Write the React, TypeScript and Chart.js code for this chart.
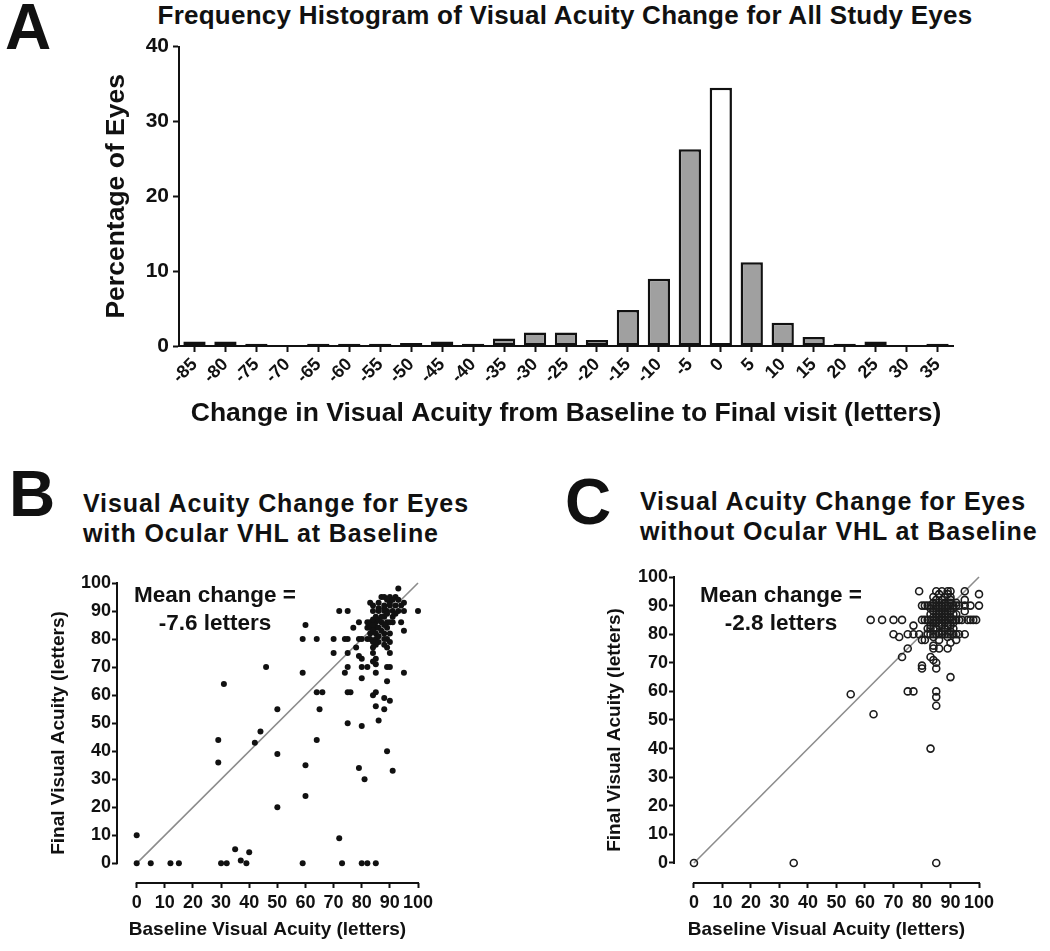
import React, { useEffect, useRef } from 'react';
import { Chart, registerables } from 'chart.js';

Chart.register(...registerables);

const FONT = '"Liberation Sans", Arial, Helvetica, sans-serif';
const INK = '#111111';

// ---- Panel A data ----
const changeCategories = ['-85', '-80', '-75', '-70', '-65', '-60', '-55', '-50', '-45', '-40', '-35', '-30', '-25', '-20', '-15', '-10', '-5', '0', '5', '10', '15', '20', '25', '30', '35'];
const percentEyes = [0.6, 0.6, 0.3, 0, 0.3, 0.3, 0.3, 0.4, 0.6, 0.3, 1.0, 1.8, 1.8, 0.8, 4.8, 9.0, 26.3, 34.5, 11.2, 3.1, 1.2, 0.3, 0.6, 0, 0.3];
const percentTicks = [0, 10, 20, 30, 40];

// ---- Panels B & C shared ----
const acuityTicks = [0, 10, 20, 30, 40, 50, 60, 70, 80, 90, 100];
const identityLine = [0, 100];

// ---- Panel B: eyes with ocular VHL at baseline ----
const bBaseline = [0, 5, 12, 15, 30, 32, 39, 59, 73, 80, 82, 85, 0, 72, 35, 40, 37, 50, 60, 81, 91, 79, 60, 29, 50, 89, 29, 42, 44, 64, 75, 80, 86, 50, 65, 88, 85, 90, 88, 84, 76, 85, 64, 66, 75, 31, 80, 59, 74, 85, 95, 89, 46, 75, 80, 82, 89, 90, 85, 80, 85, 70, 75, 84, 90, 78, 84, 89, 59, 64, 70, 74, 75, 79, 80, 82, 83, 85, 88, 89, 86, 83, 85, 88, 77, 82, 83, 85, 89, 60, 79, 82, 83, 85, 87, 89, 91, 94, 95, 84, 86, 85, 88, 72, 75, 84, 86, 88, 89, 91, 93, 95, 100, 84, 88, 90, 94, 83, 95, 87, 88, 90, 92, 93, 79, 84, 90, 85, 86, 84,
  86, 88, 90, 87, 89, 91, 92, 86, 88, 90, 92, 86, 89, 91, 93, 84, 87, 90, 88, 84];
const bFinal = [0, 0, 0, 0, 0, 0, 0, 0, 0, 0, 0, 0, 10, 9, 5, 4, 1, 20, 24, 30, 33, 34, 35, 36, 39, 40, 44, 43, 47, 44, 50, 49, 51, 55, 55, 55, 56, 58, 59, 60, 61, 61, 61, 61, 61, 64, 66, 68, 68, 68, 68, 65, 70, 70, 70, 70, 70, 70, 71, 73, 73, 75, 75, 75, 75, 77, 77, 77, 80, 80, 80, 80, 80, 80, 80, 80, 80, 80, 80, 80, 79, 82, 82, 82, 84, 84, 84, 84, 84, 85, 86, 86, 86, 86, 86, 86, 86, 86, 83, 87, 87, 88, 88, 90, 90, 90, 90, 90, 90, 90, 90, 90, 90, 92, 92, 92, 92, 93, 93, 95, 95, 95, 95, 98, 74, 72, 79, 78, 81, 83,
  84, 85, 86, 88, 89, 88, 89, 91, 91, 93, 92, 93, 94, 94, 94, 85, 83, 82, 78, 79];

// ---- Panel C: eyes without ocular VHL at baseline ----
const cBaseline = [0, 35, 85, 83, 63, 55, 75, 77, 85, 85, 85, 90, 80, 80, 85, 83, 84, 85, 73, 75, 84, 86, 89, 90, 84, 70, 72, 75, 77, 79, 80, 81, 82, 83, 84, 85, 86, 87, 88, 89, 90, 91, 92, 93, 95, 77, 82, 85, 88, 91, 62, 66, 70, 73, 80, 81, 82, 83, 84, 85, 86, 87, 88, 89, 90, 91, 92, 93, 94, 96, 97, 98, 99, 83, 85, 87, 89, 91, 95, 86, 88, 90, 80, 81, 82, 83, 84, 85, 86, 87, 88, 89, 90, 91, 92, 93, 95, 97, 100, 84, 95, 100, 79, 85, 87, 89, 90, 95, 83, 86, 89, 84, 87, 90, 86, 88, 84,
  83, 84, 86, 87, 89, 90, 91, 84, 86, 88, 90, 92, 83, 85, 87, 89, 91, 84, 86, 88, 90, 92, 85, 88, 87, 90, 84, 86, 89, 92, 85, 88, 90, 86, 89];
const cFinal = [0, 0, 0, 40, 52, 59, 60, 60, 60, 58, 55, 65, 68, 69, 68, 72, 71, 70, 72, 75, 75, 75, 75, 77, 76, 80, 79, 80, 80, 80, 78, 78, 80, 80, 80, 80, 80, 80, 80, 80, 80, 80, 80, 80, 80, 83, 82, 82, 82, 82, 85, 85, 85, 85, 85, 85, 85, 85, 85, 85, 85, 85, 85, 85, 85, 85, 85, 85, 85, 85, 85, 85, 85, 87, 87, 87, 87, 87, 88, 88, 88, 88, 90, 90, 90, 90, 90, 90, 90, 90, 90, 90, 90, 90, 90, 90, 90, 90, 90, 93, 92, 94, 95, 95, 95, 95, 95, 95, 82, 83, 83, 88, 92, 92, 86, 86, 84,
  83, 82, 84, 83, 84, 83, 84, 86, 87, 87, 86, 87, 89, 89, 89, 89, 89, 91, 91, 91, 91, 91, 84, 84, 81, 81, 79, 78, 79, 78, 92, 93, 93, 94, 94];

const zip = (xs: number[], ys: number[]) => xs.map((x, i) => ({ x, y: ys[i] }));

const prismAxes = {
  id: 'prismAxes',
  afterDraw(chart: any) {
    const { ctx, chartArea } = chart;
    const xs = chart.scales.x;
    const ys = chart.scales.y;
    ctx.save();
    ctx.strokeStyle = INK;
    ctx.lineWidth = 2;
    ctx.beginPath();
    ctx.moveTo(xs.getPixelForValue(acuityTicks[0]) - 1, chartArea.bottom);
    ctx.lineTo(xs.getPixelForValue(acuityTicks[acuityTicks.length - 1]) + 1, chartArea.bottom);
    ctx.moveTo(chartArea.left, ys.getPixelForValue(acuityTicks[0]) + 1);
    ctx.lineTo(chartArea.left, ys.getPixelForValue(acuityTicks[acuityTicks.length - 1]) - 1);
    ctx.stroke();
    ctx.restore();
  },
};

function histogramConfig(): any {
  return {
    type: 'bar',
    data: {
      labels: changeCategories,
      datasets: [
        {
          data: percentEyes,
          backgroundColor: changeCategories.map((c) => (c === '0' ? '#ffffff' : '#a0a0a0')),
          borderColor: INK,
          borderWidth: 2.5,
          borderSkipped: false,
          barPercentage: 0.72,
          categoryPercentage: 1,
        },
      ],
    },
    options: {
      responsive: false,
      animation: false,
      layout: { padding: { left: 0, top: 15, right: 97, bottom: 0 } },
      plugins: { legend: { display: false }, tooltip: { enabled: false } },
      scales: {
        x: {
          offset: true,
          grid: { display: true, drawOnChartArea: false, drawTicks: true, tickLength: 6, tickWidth: 2, tickColor: INK, offset: false },
          border: { display: true, color: INK, width: 2 },
          ticks: { minRotation: 45, maxRotation: 45, autoSkip: false, padding: 2, color: INK, font: { family: FONT, size: 18, weight: 'bold' } },
          title: {
            display: true,
            text: 'Change in Visual Acuity from Baseline to Final visit (letters)',
            color: INK,
            font: { family: FONT, size: 26.5, weight: 'bold' },
            padding: { top: 0, bottom: 0 },
          },
          afterFit: (s: any) => { s.height = 84; },
        },
        y: {
          min: 0,
          max: 40,
          afterBuildTicks: (s: any) => { s.ticks = percentTicks.map((v) => ({ value: v })); },
          grid: { display: true, drawOnChartArea: false, drawTicks: true, tickLength: 6, tickWidth: 2, tickColor: INK },
          border: { display: true, color: INK, width: 2 },
          ticks: { padding: 4, color: INK, font: { family: FONT, size: 21, weight: 'bold' } },
          title: {
            display: true,
            text: 'Percentage of Eyes',
            color: INK,
            font: { family: FONT, size: 26.5, weight: 'bold' },
            padding: { top: 101, bottom: 0 },
          },
          afterFit: (s: any) => { s.width = 179; },
        },
      },
    },
  };
}

function scatterConfig(
  xs: number[], ys: number[], open: boolean,
  yWidth: number, padTop: number, padRight: number, yTitlePad: number,
): any {
  const tickFont = { family: FONT, size: 18, weight: 'bold' };
  const titleFont = { family: FONT, size: 19, weight: 'bold' };
  return {
    type: 'scatter',
    data: {
      datasets: [
        {
          data: zip(identityLine, identityLine),
          showLine: true,
          borderColor: '#8c8c8c',
          borderWidth: 1.6,
          pointRadius: 0,
          order: 2,
          clip: false,
        },
        {
          data: zip(xs, ys),
          pointRadius: open ? 3.5 : 3,
          pointBackgroundColor: open ? 'rgba(255,255,255,0)' : INK,
          pointBorderColor: open ? '#1c1c1c' : INK,
          pointBorderWidth: open ? 1.6 : 0,
          order: 1,
          clip: false,
        },
      ],
    },
    options: {
      responsive: false,
      animation: false,
      layout: { padding: { left: 0, top: padTop, right: padRight, bottom: 0 } },
      plugins: { legend: { display: false }, tooltip: { enabled: false } },
      scales: {
        x: {
          type: 'linear',
          min: -7,
          max: 100,
          afterBuildTicks: (s: any) => { s.ticks = acuityTicks.map((v) => ({ value: v })); },
          grid: { display: true, drawOnChartArea: false, drawTicks: true, tickLength: 5, tickWidth: 2, tickColor: INK },
          border: { display: false },
          ticks: { padding: 4, autoSkip: false, maxRotation: 0, minRotation: 0, color: INK, font: tickFont },
          title: {
            display: true,
            text: 'Baseline Visual Acuity (letters)',
            color: INK,
            font: titleFont,
            padding: { top: 0, bottom: 10 },
          },
          afterFit: (s: any) => { s.height = 68; },
        },
        y: {
          type: 'linear',
          min: -7,
          max: 100,
          afterBuildTicks: (s: any) => { s.ticks = acuityTicks.map((v) => ({ value: v })); },
          grid: { display: true, drawOnChartArea: false, drawTicks: true, tickLength: 5, tickWidth: 2, tickColor: INK },
          border: { display: false },
          ticks: { padding: 1, autoSkip: false, color: INK, font: tickFont },
          title: {
            display: true,
            text: 'Final Visual Acuity (letters)',
            color: INK,
            font: titleFont,
            padding: { top: yTitlePad, bottom: 0 },
          },
          afterFit: (s: any) => { s.width = yWidth; },
        },
      },
    },
    plugins: [prismAxes],
  };
}

function ChartCanvas(props: { make: () => any; left: number; top: number; width: number; height: number }) {
  const ref = useRef<HTMLCanvasElement | null>(null);
  useEffect(() => {
    if (!ref.current) return;
    const chart = new Chart(ref.current, props.make());
    return () => chart.destroy();
  }, []);
  return (
    <canvas
      ref={ref}
      width={props.width}
      height={props.height}
      style={{ position: 'absolute', left: props.left, top: props.top, width: props.width, height: props.height }}
    />
  );
}

const textBase: React.CSSProperties = {
  position: 'absolute',
  fontFamily: FONT,
  fontWeight: 'bold',
  color: INK,
  whiteSpace: 'nowrap',
  margin: 0,
};

export default function App() {
  return (
    <div style={{ position: 'absolute', left: 0, top: 0, width: 1050, height: 951, overflow: 'hidden', background: '#ffffff' }}>
      <ChartCanvas make={histogramConfig} left={0} top={30} width={1050} height={400} />
      <ChartCanvas
        make={() => scatterConfig(bBaseline, bFinal, false, 117, 23, 107, 47.6)}
        left={0} top={560} width={525} height={391}
      />
      <ChartCanvas
        make={() => scatterConfig(cBaseline, cFinal, true, 149, 17, 71, 78)}
        left={525} top={560} width={525} height={391}
      />

      <div style={{ ...textBase, left: 5, top: -5, fontSize: 64, lineHeight: '64px' }}>A</div>
      <div style={{ ...textBase, left: 115, width: 900, top: 0, textAlign: 'center', fontSize: 26, lineHeight: '30px', letterSpacing: '0.25px' }}>
        Frequency Histogram of Visual Acuity Change for All Study Eyes
      </div>

      <div style={{ ...textBase, left: 9, top: 462, fontSize: 64, lineHeight: '64px' }}>B</div>
      <div style={{ ...textBase, left: 83, top: 488, fontSize: 25, lineHeight: '30px', letterSpacing: '0.9px' }}>
        <div>Visual Acuity Change for Eyes</div>
        <div>with Ocular VHL at Baseline</div>
      </div>
      <div style={{ ...textBase, left: 115, width: 200, top: 581, textAlign: 'center', fontSize: 22.5, lineHeight: '28px' }}>
        <div>Mean change =</div>
        <div>-7.6 letters</div>
      </div>

      <div style={{ ...textBase, left: 565, top: 470, fontSize: 64, lineHeight: '64px' }}>C</div>
      <div style={{ ...textBase, left: 640, top: 486, fontSize: 25, lineHeight: '30px', letterSpacing: '0.9px' }}>
        <div>Visual Acuity Change for Eyes</div>
        <div>without Ocular VHL at Baseline</div>
      </div>
      <div style={{ ...textBase, left: 681, width: 200, top: 581, textAlign: 'center', fontSize: 22.5, lineHeight: '28px' }}>
        <div>Mean change =</div>
        <div>-2.8 letters</div>
      </div>
    </div>
  );
}
